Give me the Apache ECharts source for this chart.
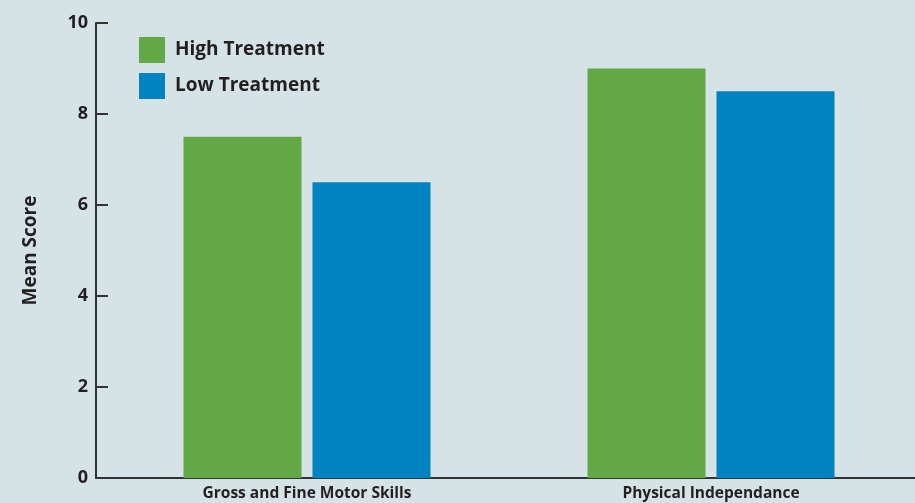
<!DOCTYPE html>
<html><head><meta charset="utf-8">
<script src="https://cdn.jsdelivr.net/npm/echarts@6/dist/echarts.min.js"></script>
<style>html,body{margin:0;padding:0;background:#d5e3e7}#c{width:915px;height:503px}</style>
</head><body><div id="c"></div>
<script>
const categories = ['Gross and Fine Motor Skills', 'Physical Independance'];
const highTreatment = [7.5, 9.0];
const lowTreatment = [6.5, 8.5];
const yTicks = [0, 2, 4, 6, 8, 10];

const chart = echarts.init(document.getElementById('c'));
const font = 'Open Sans';
chart.setOption({
  backgroundColor: '#d5e3e7',
  animation: false,
  textStyle: {fontFamily: font},
  legend: {
    left: 134, top: 32, orient: 'vertical', itemWidth: 26, itemHeight: 26, itemGap: 10,
    icon: 'rect',
    textStyle: {fontSize: 19, fontWeight: 'bold', color: '#231f20', fontFamily: font, padding: [0,0,0,5]},
    data: ['High Treatment', 'Low Treatment']
  },
  grid: [
    {left: 105, right: 2, top: 23, bottom: 25},
    {left: 96, right: 0, top: 23, bottom: 25}
  ],
  xAxis: [
    {type: 'category', data: categories, gridIndex: 0,
     axisLine: {show: false}, axisTick: {show: false},
     axisLabel: {fontSize: 15.5, fontWeight: 'bold', color: '#231f20', margin: 8, fontFamily: font}},
    {type: 'category', data: categories, gridIndex: 1,
     axisLine: {show: true, lineStyle: {color: '#333333', width: 2}}, axisTick: {show: false}, axisLabel: {show: false}}
  ],
  yAxis: [
    {type: 'value', min: 0, max: 10, interval: 2, gridIndex: 0, offset: 9,
     name: 'Mean Score', nameLocation: 'middle', nameGap: 56,
     nameTextStyle: {fontSize: 19, fontWeight: 'bold', color: '#231f20', fontFamily: font},
     axisLine: {show: true, lineStyle: {color: '#333333', width: 2}},
     axisTick: {show: true, inside: true, length: 12, lineStyle: {color: '#333333', width: 2}},
     splitLine: {show: false},
     axisLabel: {fontSize: 18, fontWeight: 'bold', color: '#231f20', margin: 8, fontFamily: font,
       formatter: v => yTicks.includes(v) ? String(v) : ''}},
    {type: 'value', min: 0, max: 10, gridIndex: 1, show: false}
  ],
  series: [
    {name: 'High Treatment', type: 'bar', data: highTreatment, barWidth: 118, barGap: '9.3%',
     itemStyle: {color: '#63a846'}, xAxisIndex: 0, yAxisIndex: 0},
    {name: 'Low Treatment', type: 'bar', data: lowTreatment, barWidth: 118, barGap: '9.3%',
     itemStyle: {color: '#0083c0'}, xAxisIndex: 0, yAxisIndex: 0}
  ]
});
</script></body></html>
